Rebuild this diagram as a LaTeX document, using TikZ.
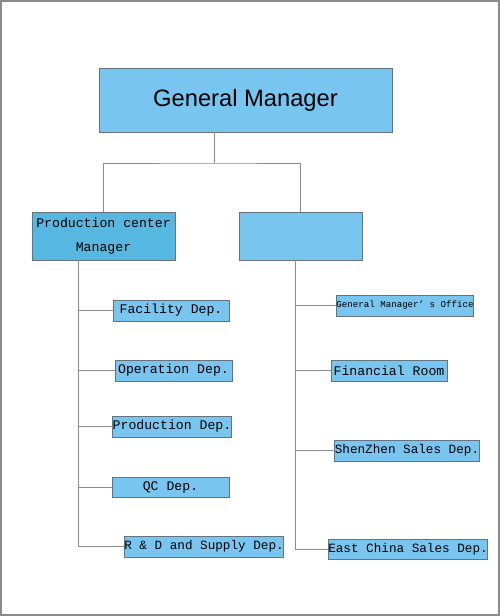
\documentclass[tikz,border=0pt]{standalone}
\usepackage{fontspec}
\setmainfont{Liberation Sans}
\setmonofont{Liberation Mono}

\definecolor{boxblue}{HTML}{78C6F0}
\definecolor{boxdark}{HTML}{56B8E0}
\definecolor{boxline}{HTML}{66737E}
\definecolor{wire}{HTML}{8C8C8C}

\begin{document}
\begin{tikzpicture}[x=0.02cm,y=-0.02cm,line width=0.5pt,
	every node/.style={draw=boxline,fill=boxblue,inner sep=0pt,outer sep=0pt},
	dept/.style={minimum height=0.42cm,font=\ttfamily\fontsize{7.5}{9}\selectfont},
	long/.style={font=\ttfamily\fontsize{7.2}{9}\selectfont},
	wire/.style={draw=wire,line width=0.5pt}]

\useasboundingbox (0,0) rectangle (500,616);
\draw[wire,line width=0.7pt] (1,1) rectangle (499,615);

\node[minimum width=5.86cm,minimum height=1.28cm,font=\fontsize{13.5}{16}\selectfont]   (gm)   at (245.5,100)   {General Manager};
	\node[fill=boxdark,minimum width=2.86cm,minimum height=0.96cm,align=center,font=\ttfamily\fontsize{7.5}{13.6}\selectfont]   (pcm)   at (103.5,236)   {Production center\\Manager};
	\node[minimum width=2.46cm,minimum height=0.96cm]   (sales)   at (300.5,236)   {};

	% production side
	\node[dept,minimum width=2.32cm]   (fac)   at (171,310.5)   {Facility Dep.};
	\node[dept,minimum width=2.34cm]   (ope)   at (173.5,370.5)   {Operation Dep.};
	\node[dept,minimum width=2.32cm]   (prod)   at (172,426.5)   {Production Dep.};
	\node[dept,minimum width=2.34cm,minimum height=0.4cm]   (qc)   at (170.5,487)   {QC Dep.};
	\node[dept,long,minimum width=3.16cm]   (rd)   at (204,546.5)   {R \& D and Supply Dep.};

	% office / sales side
	\node[dept,minimum width=2.72cm,font=\ttfamily\fontsize{5.2}{6}\selectfont]   (gmo)   at (405,305.5)   {General Manager’ s Office};
	\node[dept,minimum width=2.32cm]   (fin)   at (389,370.5)   {Financial Room};
	\node[dept,long,minimum width=2.76cm]   (sz)   at (407,450.5)   {ShenZhen Sales Dep.};
	\node[dept,long,minimum width=3.12cm,minimum height=0.4cm]   (ec)   at (408,549)   {East China Sales Dep.};

	\coordinate (split) at (214,163);
	\coordinate (lspine) at (78,260);
	\coordinate (rspine) at (295,260);

	\draw[wire] (gm.south -| split) -- (split);
	\draw[wire] (pcm.north) |- (split) -| (sales.north);
	\draw[wire] (lspine) -- (lspine |- rd.west);
	\draw[wire] (rspine) -- (rspine |- ec.west);

	\path[every edge/.style={wire}] (fac.west) edge (lspine |- fac.west)
					(ope.west) edge (lspine |- ope.west)
					(prod.west) edge (lspine |- prod.west)
					(qc.west) edge (lspine |- qc.west)
					(rd.west) edge (lspine |- rd.west)

					(gmo.west) edge (rspine |- gmo.west)
					(fin.west) edge (rspine |- fin.west)
					(sz.west) edge (rspine |- sz.west)
					(ec.west) edge (rspine |- ec.west);

\end{tikzpicture}
\end{document}
